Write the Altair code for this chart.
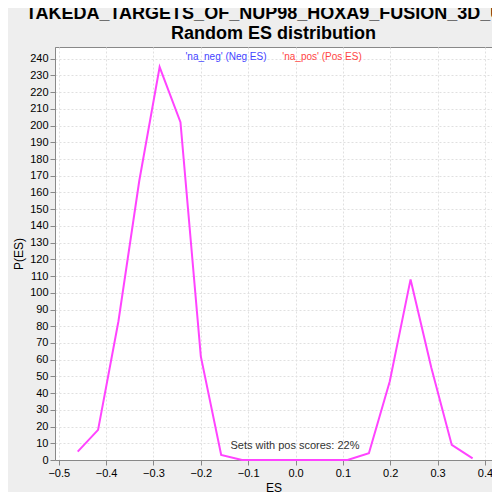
import altair as alt
import pandas as pd

es = [-0.46, -0.417, -0.374, -0.33, -0.287, -0.243, -0.2, -0.157, -0.113, 0.11, 0.155, 0.199, 0.243, 0.287, 0.33, 0.374]
pes = [5, 18, 83, 167, 235, 202, 62, 3, 0, 0, 4, 47, 108, 55, 9, 1]
df = pd.DataFrame({"ES": es, "P": pes})

xs = alt.Scale(domain=[-0.508, 0.415], nice=False, zero=False)
ys = alt.Scale(domain=[0, 247], nice=False)

line = alt.Chart(df).mark_line(color="#FF44FF", strokeWidth=2).encode(
    x=alt.X("ES:Q", scale=xs, title="ES",
            axis=alt.Axis(values=[-0.5,-0.4,-0.3,-0.2,-0.1,0,0.1,0.2,0.3,0.4], format=".1f",
                          grid=True, gridDash=[2,2], gridColor="#E0E0E0", labelFontSize=11, titleFontSize=12,
                          titleFontWeight="normal", domainColor="#888", tickColor="#888")),
    y=alt.Y("P:Q", scale=ys, title="P(ES)",
            axis=alt.Axis(values=list(range(0, 241, 10)), grid=True, gridDash=[2,2], gridColor="#E0E0E0",
                          labelFontSize=11, titleFontSize=12, titleFontWeight="normal",
                          domainColor="#888", tickColor="#888")),
)

lab = pd.DataFrame({"t": ["'na_neg' (Neg ES)", "'na_pos' (Pos ES)"], "c": ["#4444FF", "#FF4444"], "px": [171, 267]})
legend = alt.Chart(lab).mark_text(fontSize=10, align="center", baseline="middle").encode(
    x=alt.X("px:Q", scale=None), y=alt.value(10), text="t:N", color=alt.Color("c:N", scale=None))
note = alt.Chart(pd.DataFrame({"t": ["Sets with pos scores: 22%"]})).mark_text(
    fontSize=11, color="#333", align="center", baseline="bottom").encode(
    x=alt.value(240), y=alt.value(404), text="t:N")

chart = alt.layer(line, legend, note).properties(
    width=437, height=413,
    title=alt.TitleParams(["TAKEDA_TARGETS_OF_NUP98_HOXA9_FUSION_3D_UP:", "Random ES distribution"],
                          fontSize=18, fontWeight="bold", anchor="middle", offset=4),
    background="#EEEEEE", padding={"left": 47, "top": 39, "right": 0, "bottom": 32},
    autosize=alt.AutoSizeParams(type="none"),
).configure_view(fill="white", stroke="#888")

chart.save("out.html", embed_options={"renderer": "svg", "actions": False})
